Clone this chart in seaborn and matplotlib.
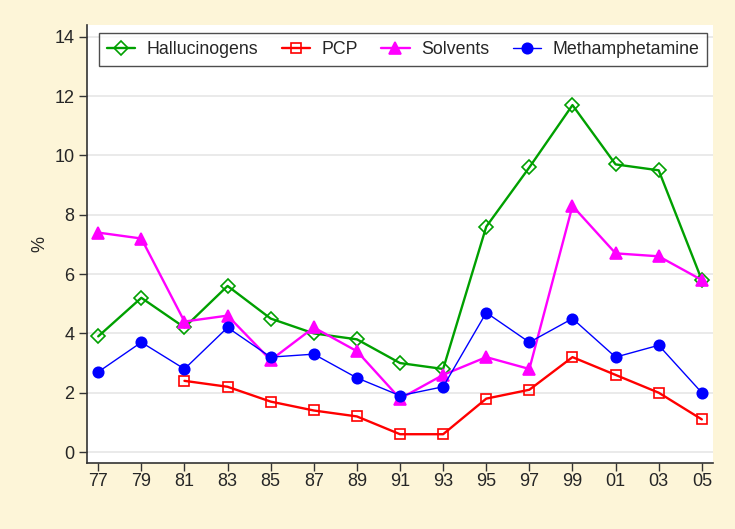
import numpy as np
import pandas as pd
import matplotlib
matplotlib.use('Agg')
import matplotlib.pyplot as plt
import seaborn as sns

# survey years (two-digit labels as on the original chart)
years = ['77', '79', '81', '83', '85', '87', '89', '91', '93', '95', '97', '99', '01', '03', '05']

hallucinogens = [3.9, 5.2, 4.2, 5.6, 4.5, 4.0, 3.8, 3.0, 2.8, 7.6, 9.6, 11.7, 9.7, 9.5, 5.8]
pcp = [np.nan, np.nan, 2.4, 2.2, 1.7, 1.4, 1.2, 0.6, 0.6, 1.8, 2.1, 3.2, 2.6, 2.0, 1.1]
solvents = [7.4, 7.2, 4.4, 4.6, 3.1, 4.2, 3.4, 1.8, 2.6, 3.2, 2.8, 8.3, 6.7, 6.6, 5.8]
meth = [2.7, 3.7, 2.8, 4.2, 3.2, 3.3, 2.5, 1.9, 2.2, 4.7, 3.7, 4.5, 3.2, 3.6, 2.0]

y_ticks = [0, 2, 4, 6, 8, 10, 12, 14]

df = pd.DataFrame({'pos': range(len(years)), 'year': years,
                   'Hallucinogens': hallucinogens, 'PCP': pcp,
                   'Solvents': solvents, 'Methamphetamine': meth})

sns.set_style('white')
plt.rcParams['font.family'] = ['Liberation Sans', 'DejaVu Sans']

bg = '#FDF5D8'
fig = plt.figure(figsize=(7.35, 5.29), dpi=100, facecolor=bg)
ax = fig.add_axes([0.1184, 0.1248, 0.8517, 0.8279])
ax.set_facecolor('white')

# series styling: name -> (color, marker, filled, linewidth, markersize)
styles = {
    'Hallucinogens': ('#00A000', 'D', False, 1.7, 7),
    'PCP': ('#FF0000', 's', False, 1.7, 7),
    'Solvents': ('#FF00FF', '^', True, 1.7, 8),
    'Methamphetamine': ('#0000FF', 'o', True, 1.0, 7.5),
}

for name, (col, mk, filled, lw, ms) in styles.items():
    sub = df[['pos', name]].dropna()
    sns.lineplot(data=sub, x='pos', y=name, ax=ax, color=col, lw=lw,
                 marker=mk, markersize=ms,
                 markerfacecolor=col if filled else 'none',
                 markeredgecolor=col, markeredgewidth=1.2,
                 label=name)

ax.set_xlim(-0.26, len(years) - 1 + 0.26)
ax.set_ylim(-0.37, 14.4)
ax.set_xticks(range(len(years)))
ax.set_xticklabels(years)
ax.set_yticks(y_ticks)
ax.set_xlabel('')
ax.set_ylabel('%', fontsize=13, labelpad=4)

ax.grid(axis='y', color='#E8E8E8', lw=1.3)
ax.grid(axis='x', visible=False)
ax.set_axisbelow(True)

for s in ['top', 'right']:
    ax.spines[s].set_visible(False)
for s in ['left', 'bottom']:
    ax.spines[s].set_color('#333333')
    ax.spines[s].set_linewidth(1.2)

ax.tick_params(axis='both', which='major', direction='out', length=6, width=1,
               color='#333333', labelsize=13, left=True, bottom=True, pad=3)
ax.tick_params(axis='x', pad=1)

leg = ax.legend(loc='upper center', bbox_to_anchor=(0.505, 0.993), ncol=4,
                fontsize=12.8, frameon=True, fancybox=False, edgecolor='#222222',
                handlelength=1.6, handletextpad=0.65, columnspacing=1.3,
                borderpad=0.45, borderaxespad=0.3)
leg.get_frame().set_linewidth(1.0)

plt.savefig('out.png', dpi=100, facecolor=bg)
